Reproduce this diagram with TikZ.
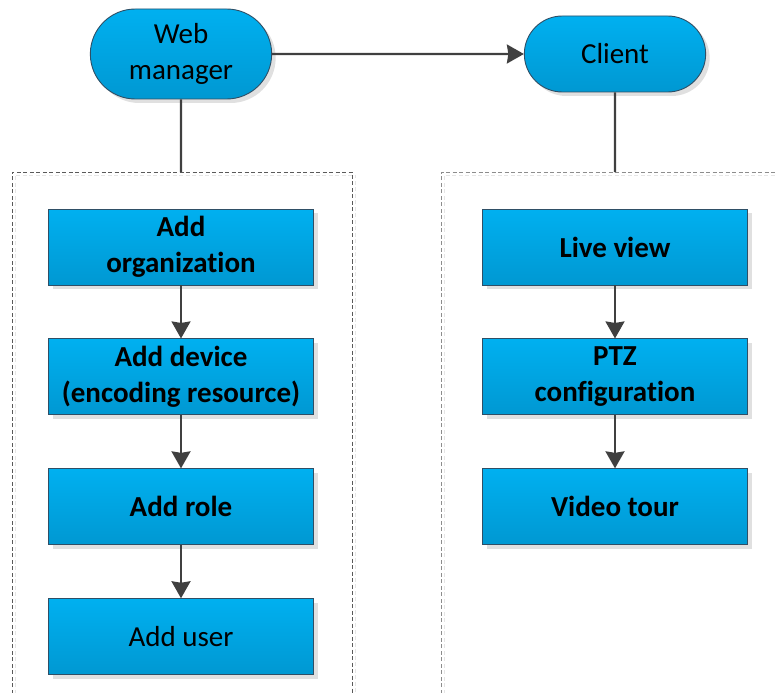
\documentclass[tikz,border=0pt]{standalone}
\usepackage{fontspec}
\setmainfont{Carlito}[Ligatures=NoCommon]
\usetikzlibrary{arrows.meta, positioning, shapes.misc, shadows}
\definecolor{kasten}{HTML}{00B0F0}
\definecolor{kastenunten}{HTML}{0098D2}
\definecolor{rand}{HTML}{2F4F66}
\definecolor{pfeilgrau}{HTML}{404040}

\begin{document}
\begin{tikzpicture}[
    x=1pt, y=-1pt,
    every node/.style={font=\fontsize{29}{36}\selectfont},
    terminal/.style={rounded rectangle, draw=rand, line width=0.9pt,
      top color=kasten, bottom color=kastenunten,
      minimum width=188pt, align=center,
      drop shadow={shadow xshift=4pt, shadow yshift=-4pt, fill=black!12, opacity=1}},
    schritt/.style={rectangle, draw=rand, line width=0.9pt,
      top color=kasten, bottom color=kastenunten,
      minimum width=265pt, minimum height=76pt, align=center,
      drop shadow={shadow xshift=4pt, shadow yshift=-4pt, fill=black!12, opacity=1}},
    fett/.style={font=\fontsize{29}{36}\selectfont\bfseries},
    verbindung/.style={draw=pfeilgrau, line width=2.2pt,
      -{Triangle[length=17pt, width=19pt, inset=1.5pt]}},
    linie/.style={draw=pfeilgrau, line width=2.2pt},
    rahmen/.style={dashed, dash pattern=on 4pt off 2.5pt, line width=0.9pt},
  ]
  \useasboundingbox (0,0) rectangle (777,693);

  % Rahmen (unten abgeschnitten)
  \draw[rahmen, black!10] (15,700) -- (15,175) -- (355,175) -- (355,700);
  \draw[rahmen, black!10] (444,700) -- (444,175) -- (780,175);
  \draw[rahmen, black!65] (12,700) -- (12,172) -- (352,172) -- (352,700);
  \draw[rahmen, black!45] (441,700) -- (441,172) -- (780,172);

  % Start
  \node[terminal, minimum height=90pt] (web) at (181,54) {Web\\manager};
  \node[terminal, minimum height=76pt] (client) at (615,54) {Client};
  \coordinate (linksoben) at (181,172);
  \coordinate (rechtsoben) at (615,172);

  % linke Spalte
  \node[schritt, fett] (org) at (181,247) {Add\\organization};
  \node[schritt, fett, below=53pt of org] (geraet) {Add device\\(encoding resource)};
  \node[schritt, fett, below=53pt of geraet] (rolle) {Add role};
  \node[schritt, below=53pt of rolle] (nutzer) {Add user};

  % rechte Spalte
  \node[schritt, fett] (live) at (615,247) {Live view};
  \node[schritt, fett, below=53pt of live] (ptz) {PTZ\\configuration};
  \node[schritt, fett, below=53pt of ptz] (tour) {Video tour};

  \draw[verbindung] (web) -- (client);
  \draw[linie] (web) -- (linksoben);
  \draw[linie] (client) -- (rechtsoben);
  \draw[verbindung] (org) -- (geraet);
  \draw[verbindung] (geraet) -- (rolle);
  \draw[verbindung] (rolle) -- (nutzer);
  \draw[verbindung] (live) -- (ptz);
  \draw[verbindung] (ptz) -- (tour);
\end{tikzpicture}
\end{document}
